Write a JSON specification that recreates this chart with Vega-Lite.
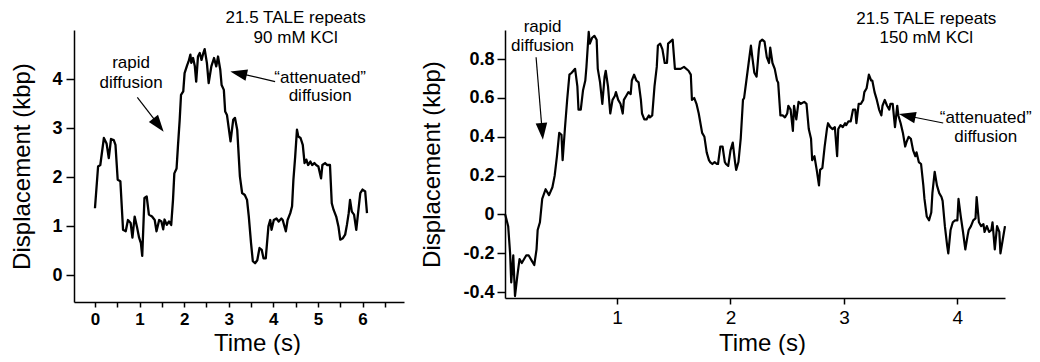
{
  "$schema": "https://vega.github.io/schema/vega-lite/v6.json",
  "padding": {"left": 10, "top": 9, "right": 0, "bottom": 0},
  "background": "white",
  "config": {
    "font": "Liberation Sans",
    "view": {"stroke": null},
    "axis": {
      "grid": false,
      "domainColor": "black",
      "domainWidth": 1.5,
      "tickColor": "black",
      "tickWidth": 1.5,
      "labelColor": "black",
      "titleColor": "black",
      "labelFont": "Liberation Sans",
      "titleFont": "Liberation Sans",
      "titleFontWeight": "normal",
      "labelFlush": false,
      "labelOverlap": false,
      "labelBound": false
    }
  },
  "datasets": {
    "L": [
      {"t":0,"v":1.37},{"t":0.07,"v":2.22},{"t":0.12,"v":2.25},{"t":0.20,"v":2.80},{"t":0.26,"v":2.69},{"t":0.31,"v":2.39},{"t":0.36,"v":2.78},{"t":0.42,"v":2.76},{"t":0.46,"v":2.66},{"t":0.51,"v":1.95},{"t":0.57,"v":1.92},{"t":0.63,"v":0.93},{"t":0.69,"v":0.90},{"t":0.74,"v":1.13},{"t":0.80,"v":1.07},{"t":0.84,"v":0.77},{"t":0.89,"v":1.20},{"t":0.94,"v":1.00},{"t":0.99,"v":0.77},{"t":1.03,"v":0.66},{"t":1.06,"v":0.40},{"t":1.11,"v":1.58},{"t":1.16,"v":1.61},{"t":1.21,"v":1.24},{"t":1.28,"v":1.20},{"t":1.34,"v":1.13},{"t":1.38,"v":0.90},{"t":1.44,"v":1.13},{"t":1.49,"v":1.10},{"t":1.53,"v":0.94},{"t":1.56,"v":1.14},{"t":1.61,"v":1.03},{"t":1.66,"v":1.10},{"t":1.71,"v":1.03},{"t":1.75,"v":1.54},{"t":1.78,"v":2.08},{"t":1.83,"v":2.18},{"t":1.86,"v":2.62},{"t":1.90,"v":3.17},{"t":1.93,"v":3.68},{"t":1.98,"v":3.75},{"t":2.01,"v":4.12},{"t":2.07,"v":4.29},{"t":2.10,"v":4.36},{"t":2.14,"v":4.50},{"t":2.16,"v":4.33},{"t":2.20,"v":4.43},{"t":2.24,"v":4.26},{"t":2.27,"v":3.95},{"t":2.31,"v":4.46},{"t":2.35,"v":4.53},{"t":2.39,"v":4.39},{"t":2.43,"v":4.53},{"t":2.46,"v":4.61},{"t":2.51,"v":4.33},{"t":2.55,"v":3.92},{"t":2.61,"v":4.26},{"t":2.67,"v":4.43},{"t":2.72,"v":4.26},{"t":2.76,"v":4.46},{"t":2.81,"v":4.19},{"t":2.84,"v":3.88},{"t":2.89,"v":3.78},{"t":2.92,"v":3.34},{"t":2.96,"v":3.27},{"t":3.00,"v":3.00},{"t":3.04,"v":2.73},{"t":3.10,"v":3.17},{"t":3.14,"v":3.21},{"t":3.19,"v":2.97},{"t":3.25,"v":2.02},{"t":3.30,"v":1.68},{"t":3.36,"v":1.64},{"t":3.41,"v":1.54},{"t":3.45,"v":1.20},{"t":3.50,"v":0.66},{"t":3.54,"v":0.29},{"t":3.59,"v":0.25},{"t":3.64,"v":0.31},{"t":3.69,"v":0.56},{"t":3.74,"v":0.52},{"t":3.78,"v":0.35},{"t":3.83,"v":0.35},{"t":3.89,"v":1.00},{"t":3.93,"v":1.13},{"t":3.96,"v":0.93},{"t":4.01,"v":1.13},{"t":4.07,"v":1.16},{"t":4.12,"v":1.10},{"t":4.18,"v":1.16},{"t":4.21,"v":1.13},{"t":4.28,"v":0.90},{"t":4.32,"v":1.13},{"t":4.38,"v":1.27},{"t":4.42,"v":1.41},{"t":4.45,"v":1.95},{"t":4.49,"v":2.42},{"t":4.53,"v":2.97},{"t":4.56,"v":2.83},{"t":4.61,"v":2.80},{"t":4.66,"v":2.66},{"t":4.70,"v":2.29},{"t":4.74,"v":2.36},{"t":4.78,"v":2.25},{"t":4.83,"v":2.32},{"t":4.87,"v":2.25},{"t":4.92,"v":2.29},{"t":4.96,"v":2.25},{"t":5.01,"v":2.22},{"t":5.07,"v":1.98},{"t":5.10,"v":2.25},{"t":5.16,"v":2.29},{"t":5.21,"v":2.25},{"t":5.27,"v":2.25},{"t":5.31,"v":1.47},{"t":5.35,"v":1.34},{"t":5.41,"v":1.20},{"t":5.46,"v":1.00},{"t":5.50,"v":0.73},{"t":5.56,"v":0.76},{"t":5.61,"v":0.83},{"t":5.65,"v":1.03},{"t":5.69,"v":1.27},{"t":5.72,"v":1.54},{"t":5.76,"v":1.30},{"t":5.81,"v":1.24},{"t":5.86,"v":0.93},{"t":5.90,"v":1.27},{"t":5.95,"v":1.68},{"t":6.00,"v":1.75},{"t":6.06,"v":1.71},{"t":6.10,"v":1.27}
    ],
    "R": [
      {"t":0.014,"v":0},{"t":0.04,"v":-0.06},{"t":0.057,"v":-0.20},{"t":0.067,"v":-0.35},{"t":0.085,"v":-0.21},{"t":0.10,"v":-0.42},{"t":0.12,"v":-0.32},{"t":0.14,"v":-0.23},{"t":0.16,"v":-0.25},{"t":0.20,"v":-0.21},{"t":0.22,"v":-0.21},{"t":0.25,"v":-0.24},{"t":0.27,"v":-0.26},{"t":0.29,"v":-0.18},{"t":0.30,"v":-0.08},{"t":0.32,"v":-0.04},{"t":0.34,"v":0.08},{"t":0.37,"v":0.13},{"t":0.40,"v":0.10},{"t":0.43,"v":0.14},{"t":0.45,"v":0.20},{"t":0.47,"v":0.30},{"t":0.49,"v":0.42},{"t":0.51,"v":0.41},{"t":0.52,"v":0.28},{"t":0.54,"v":0.44},{"t":0.56,"v":0.59},{"t":0.58,"v":0.72},{"t":0.60,"v":0.73},{"t":0.63,"v":0.75},{"t":0.65,"v":0.66},{"t":0.66,"v":0.54},{"t":0.68,"v":0.54},{"t":0.70,"v":0.64},{"t":0.72,"v":0.69},{"t":0.73,"v":0.76},{"t":0.75,"v":0.94},{"t":0.76,"v":0.88},{"t":0.78,"v":0.91},{"t":0.80,"v":0.92},{"t":0.82,"v":0.90},{"t":0.83,"v":0.75},{"t":0.85,"v":0.68},{"t":0.87,"v":0.57},{"t":0.89,"v":0.71},{"t":0.90,"v":0.74},{"t":0.92,"v":0.66},{"t":0.94,"v":0.52},{"t":0.96,"v":0.59},{"t":0.98,"v":0.61},{"t":0.99,"v":0.63},{"t":1.01,"v":0.59},{"t":1.03,"v":0.57},{"t":1.05,"v":0.52},{"t":1.06,"v":0.59},{"t":1.08,"v":0.61},{"t":1.10,"v":0.63},{"t":1.12,"v":0.62},{"t":1.13,"v":0.69},{"t":1.15,"v":0.72},{"t":1.17,"v":0.69},{"t":1.19,"v":0.68},{"t":1.21,"v":0.59},{"t":1.22,"v":0.52},{"t":1.24,"v":0.49},{"t":1.26,"v":0.49},{"t":1.28,"v":0.51},{"t":1.29,"v":0.50},{"t":1.31,"v":0.51},{"t":1.33,"v":0.66},{"t":1.35,"v":0.76},{"t":1.36,"v":0.87},{"t":1.38,"v":0.88},{"t":1.40,"v":0.85},{"t":1.42,"v":0.78},{"t":1.44,"v":0.78},{"t":1.45,"v":0.88},{"t":1.47,"v":0.89},{"t":1.49,"v":0.90},{"t":1.51,"v":0.75},{"t":1.52,"v":0.75},{"t":1.56,"v":0.75},{"t":1.59,"v":0.76},{"t":1.63,"v":0.74},{"t":1.65,"v":0.72},{"t":1.66,"v":0.59},{"t":1.68,"v":0.60},{"t":1.70,"v":0.57},{"t":1.72,"v":0.52},{"t":1.75,"v":0.42},{"t":1.77,"v":0.40},{"t":1.79,"v":0.32},{"t":1.81,"v":0.28},{"t":1.82,"v":0.27},{"t":1.84,"v":0.26},{"t":1.86,"v":0.27},{"t":1.88,"v":0.26},{"t":1.89,"v":0.26},{"t":1.91,"v":0.35},{"t":1.93,"v":0.35},{"t":1.95,"v":0.27},{"t":1.96,"v":0.26},{"t":1.98,"v":0.25},{"t":2.00,"v":0.33},{"t":2.02,"v":0.37},{"t":2.04,"v":0.27},{"t":2.05,"v":0.23},{"t":2.07,"v":0.27},{"t":2.09,"v":0.39},{"t":2.11,"v":0.59},{"t":2.12,"v":0.60},{"t":2.14,"v":0.69},{"t":2.16,"v":0.78},{"t":2.18,"v":0.87},{"t":2.19,"v":0.82},{"t":2.21,"v":0.73},{"t":2.23,"v":0.71},{"t":2.25,"v":0.85},{"t":2.26,"v":0.89},{"t":2.28,"v":0.90},{"t":2.30,"v":0.89},{"t":2.32,"v":0.81},{"t":2.34,"v":0.78},{"t":2.35,"v":0.86},{"t":2.37,"v":0.78},{"t":2.39,"v":0.75},{"t":2.41,"v":0.69},{"t":2.42,"v":0.68},{"t":2.44,"v":0.51},{"t":2.46,"v":0.51},{"t":2.48,"v":0.50},{"t":2.50,"v":0.52},{"t":2.51,"v":0.56},{"t":2.53,"v":0.54},{"t":2.55,"v":0.43},{"t":2.56,"v":0.56},{"t":2.58,"v":0.49},{"t":2.60,"v":0.58},{"t":2.62,"v":0.57},{"t":2.65,"v":0.58},{"t":2.67,"v":0.57},{"t":2.69,"v":0.44},{"t":2.71,"v":0.39},{"t":2.72,"v":0.28},{"t":2.74,"v":0.30},{"t":2.76,"v":0.23},{"t":2.78,"v":0.15},{"t":2.79,"v":0.23},{"t":2.81,"v":0.24},{"t":2.83,"v":0.35},{"t":2.85,"v":0.44},{"t":2.86,"v":0.47},{"t":2.88,"v":0.45},{"t":2.90,"v":0.44},{"t":2.92,"v":0.45},{"t":2.94,"v":0.30},{"t":2.95,"v":0.44},{"t":2.97,"v":0.46},{"t":2.99,"v":0.45},{"t":3.01,"v":0.47},{"t":3.02,"v":0.46},{"t":3.04,"v":0.48},{"t":3.06,"v":0.48},{"t":3.08,"v":0.54},{"t":3.10,"v":0.54},{"t":3.11,"v":0.47},{"t":3.13,"v":0.57},{"t":3.15,"v":0.57},{"t":3.17,"v":0.59},{"t":3.18,"v":0.63},{"t":3.20,"v":0.65},{"t":3.22,"v":0.72},{"t":3.24,"v":0.69},{"t":3.25,"v":0.69},{"t":3.27,"v":0.63},{"t":3.29,"v":0.59},{"t":3.31,"v":0.54},{"t":3.33,"v":0.51},{"t":3.34,"v":0.56},{"t":3.36,"v":0.59},{"t":3.38,"v":0.56},{"t":3.40,"v":0.54},{"t":3.41,"v":0.57},{"t":3.43,"v":0.57},{"t":3.45,"v":0.45},{"t":3.47,"v":0.56},{"t":3.48,"v":0.51},{"t":3.50,"v":0.47},{"t":3.52,"v":0.42},{"t":3.54,"v":0.35},{"t":3.55,"v":0.37},{"t":3.57,"v":0.40},{"t":3.59,"v":0.39},{"t":3.61,"v":0.33},{"t":3.63,"v":0.30},{"t":3.64,"v":0.32},{"t":3.66,"v":0.27},{"t":3.68,"v":0.26},{"t":3.70,"v":0.15},{"t":3.71,"v":0.08},{"t":3.73,"v":-0.01},{"t":3.75,"v":-0.03},{"t":3.77,"v":0.01},{"t":3.78,"v":0.11},{"t":3.80,"v":0.22},{"t":3.82,"v":0.15},{"t":3.84,"v":0.11},{"t":3.86,"v":0.09},{"t":3.87,"v":0.07},{"t":3.89,"v":-0.06},{"t":3.91,"v":-0.16},{"t":3.92,"v":-0.20},{"t":3.94,"v":-0.08},{"t":3.96,"v":-0.04},{"t":3.98,"v":-0.03},{"t":4.00,"v":-0.03},{"t":4.01,"v":0.08},{"t":4.03,"v":-0.01},{"t":4.05,"v":-0.09},{"t":4.07,"v":-0.18},{"t":4.09,"v":-0.11},{"t":4.10,"v":-0.08},{"t":4.12,"v":-0.06},{"t":4.14,"v":-0.03},{"t":4.16,"v":-0.02},{"t":4.17,"v":0.09},{"t":4.19,"v":-0.04},{"t":4.21,"v":-0.06},{"t":4.23,"v":-0.05},{"t":4.24,"v":-0.09},{"t":4.26,"v":-0.06},{"t":4.28,"v":-0.09},{"t":4.30,"v":-0.08},{"t":4.31,"v":-0.04},{"t":4.33,"v":-0.18},{"t":4.35,"v":-0.06},{"t":4.37,"v":-0.09},{"t":4.38,"v":-0.20},{"t":4.40,"v":-0.13},{"t":4.42,"v":-0.06}
    ],
    "arrowsL": [
      {"id":"a","t":0.95,"v":3.63,"t2":1.40,"v2":3.10},
      {"id":"b","t":4.04,"v":3.95,"t2":3.27,"v2":4.11}
    ],
    "headsL": [
      {"id":"a","t":1.397,"v":3.098},
      {"id":"b","t":3.266,"v":4.108}
    ],
    "arrowsR": [
      {"id":"c","t":0.286,"v":0.81,"t2":0.338,"v2":0.44},
      {"id":"d","t":3.875,"v":0.471,"t2":3.576,"v2":0.506}
    ],
    "headsR": [
      {"id":"c","t":0.338,"v":0.439},
      {"id":"d","t":3.576,"v":0.506}
    ],
    "textL": [
      {"t":0.81,"v":4.33,"label":"rapid"},
      {"t":0.81,"v":3.92,"label":"diffusion"},
      {"t":5.05,"v":4.02,"label":"“attenuated”"},
      {"t":5.05,"v":3.65,"label":"diffusion"},
      {"t":4.50,"v":5.24,"label":"21.5 TALE repeats"},
      {"t":4.50,"v":4.84,"label":"90 mM KCl"}
    ],
    "textR": [
      {"t":0.343,"v":0.966,"label":"rapid"},
      {"t":0.343,"v":0.868,"label":"diffusion"},
      {"t":4.25,"v":0.498,"label":"“attenuated”"},
      {"t":4.25,"v":0.40,"label":"diffusion"},
      {"t":3.726,"v":1.007,"label":"21.5 TALE repeats"},
      {"t":3.726,"v":0.91,"label":"150 mM KCl"}
    ]
  },
  "hconcat": [
    {
      "width": 330,
      "height": 272,
      "encoding": {
        "x": {
          "field": "t", "type": "quantitative",
          "scale": {"domain": [-0.47, 6.93], "nice": false, "zero": false},
          "axis": {
            "title": "Time (s)",
            "values": [0,0.5,1,1.5,2,2.5,3,3.5,4,4.5,5,5.5,6,6.5],
            "labelExpr": "datum.value % 1 == 0 ? format(datum.value, 'd') : ''",
            "tickSize": 5,
            "labelFontSize": 17,
            "labelFontWeight": "bold",
            "labelPadding": 4,
            "titleFontSize": 24,
            "titlePadding": 4,
            "titleX": 183
          }
        },
        "y": {
          "field": "v", "type": "quantitative",
          "scale": {"domain": [-0.54, 5.0], "nice": false, "zero": false},
          "axis": {
            "title": "Displacement (kbp)",
            "values": [0,1,2,3,4],
            "tickSize": 8,
            "labelFontSize": 18,
            "labelFontWeight": "bold",
            "labelPadding": 4,
            "titleFontSize": 24,
            "titlePadding": 17
          }
        }
      },
      "layer": [
        {"data": {"name": "L"}, "mark": {"type": "line", "color": "black", "strokeWidth": 2.3, "strokeJoin": "round"}},
        {"data": {"name": "arrowsL"}, "mark": {"type": "rule", "color": "black", "strokeWidth": 1.2}, "encoding": {"x2": {"field": "t2"}, "y2": {"field": "v2"}}},
        {"data": {"name": "headsL"}, "transform": [{"filter": "datum.id == 'a'"}], "mark": {"type": "point", "shape": "M0,-1L0.55,0.6L-0.55,0.6Z", "size": 441, "angle": 142.5, "filled": true, "color": "black", "opacity": 1, "strokeWidth": 0}},
        {"data": {"name": "headsL"}, "transform": [{"filter": "datum.id == 'b'"}], "mark": {"type": "point", "shape": "M0,-1L0.55,0.6L-0.55,0.6Z", "size": 441, "angle": 282.5, "filled": true, "color": "black", "opacity": 1, "strokeWidth": 0}},
        {"data": {"name": "textL"}, "mark": {"type": "text", "fontSize": 17, "font": "Liberation Sans", "align": "center", "baseline": "middle", "color": "black"}, "encoding": {"text": {"field": "label"}}}
      ]
    },
    {
      "width": 500,
      "height": 268,
      "encoding": {
        "x": {
          "field": "t", "type": "quantitative",
          "scale": {"domain": [0.012, 4.42], "nice": false, "zero": false},
          "axis": {
            "title": "Time (s)",
            "values": [1,2,3,4],
            "tickSize": 6,
            "labelFontSize": 19,
            "labelFontWeight": "normal",
            "labelPadding": 4,
            "titleFontSize": 24,
            "titlePadding": 4,
            "titleX": 257
          }
        },
        "y": {
          "field": "v", "type": "quantitative",
          "scale": {"domain": [-0.43, 0.95], "nice": false, "zero": false},
          "axis": {
            "title": "Displacement (kbp)",
            "values": [-0.4,-0.2,0,0.2,0.4,0.6,0.8],
            "labelExpr": "datum.value == 0 ? '0' : (datum.value < 0 ? '-' : '') + format(abs(datum.value), '.1f')",
            "tickSize": 8,
            "labelFontSize": 18,
            "labelFontWeight": "bold",
            "labelPadding": 3,
            "titleFontSize": 24,
            "titlePadding": 18
          }
        }
      },
      "layer": [
        {"data": {"name": "R"}, "mark": {"type": "line", "color": "black", "strokeWidth": 2.2, "strokeJoin": "round"}},
        {"data": {"name": "arrowsR"}, "mark": {"type": "rule", "color": "black", "strokeWidth": 1.2}, "encoding": {"x2": {"field": "t2"}, "y2": {"field": "v2"}}},
        {"data": {"name": "headsR"}, "transform": [{"filter": "datum.id == 'c'"}], "mark": {"type": "point", "shape": "M0,-1L0.55,0.6L-0.55,0.6Z", "size": 441, "angle": 175, "filled": true, "color": "black", "opacity": 1, "strokeWidth": 0}},
        {"data": {"name": "headsR"}, "transform": [{"filter": "datum.id == 'd'"}], "mark": {"type": "point", "shape": "M0,-1L0.55,0.6L-0.55,0.6Z", "size": 441, "angle": 282, "filled": true, "color": "black", "opacity": 1, "strokeWidth": 0}},
        {"data": {"name": "textR"}, "mark": {"type": "text", "fontSize": 17, "font": "Liberation Sans", "align": "center", "baseline": "middle", "color": "black"}, "encoding": {"text": {"field": "label"}}}
      ]
    }
  ],
  "spacing": 101,
  "bounds": "flush"
}
